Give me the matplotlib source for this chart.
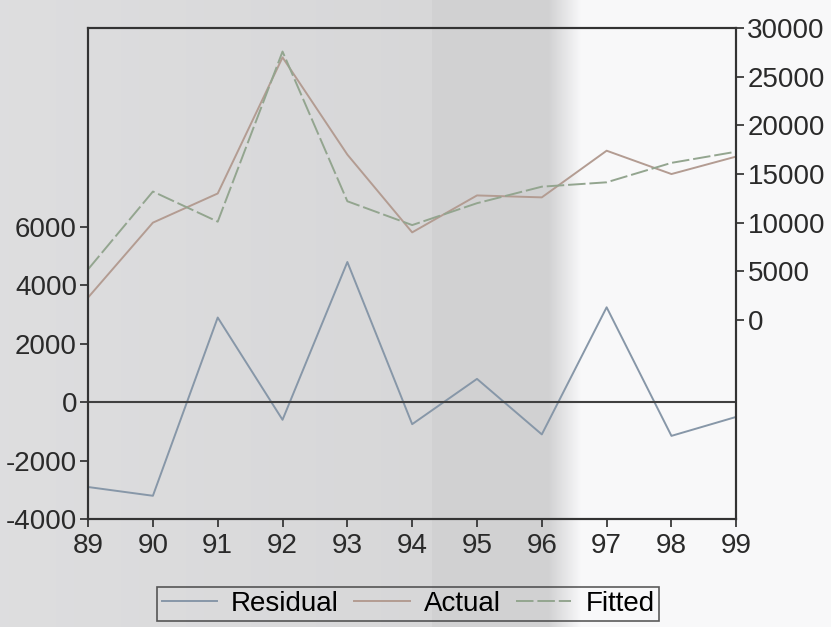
import numpy as np
import matplotlib.pyplot as plt

years = [89, 90, 91, 92, 93, 94, 95, 96, 97, 98, 99]
actual = [2300, 10000, 13000, 27000, 17000, 9000, 12800, 12600, 17400, 15000, 16800]
fitted = [5200, 13200, 10100, 27600, 12200, 9750, 12000, 13700, 14150, 16150, 17300]
residual = [-2900, -3200, 2900, -600, 4800, -750, 800, -1100, 3250, -1150, -500]

left_ticks = [-4000, -2000, 0, 2000, 4000, 6000]
right_ticks = [0, 5000, 10000, 15000, 20000, 25000, 30000]

plt.rcParams['font.family'] = ['Liberation Sans', 'DejaVu Sans']
plt.rcParams['axes.unicode_minus'] = False

fig = plt.figure(figsize=(8.31, 6.27), dpi=100)

# paper shading behind everything
bg = fig.add_axes([0, 0, 1, 1], zorder=-10)
cols = np.linspace(0, 1, 831)
shade = np.where(cols < 0.52, 0.87 - 0.05 * cols, np.where(cols < 0.68, 0.82, 0.975))
shade = np.where((cols > 0.66) & (cols < 0.70), 0.82 + (cols - 0.66) / 0.04 * 0.155, shade)
img = np.tile(shade, (627, 1))
bg.imshow(np.dstack([img, img, img + 0.005]).clip(0, 1), aspect='auto', extent=[0, 1, 0, 1])
bg.axis('off')

ax = fig.add_axes([0.106, 0.172, 0.780, 0.783])
ax.set_facecolor('none')
ax2 = ax.twinx()

ax.plot(years, residual, color='#8797a8', lw=1.4, label='Residual')
ax.axhline(0, color='#404040', lw=1.5)
ax2.plot(years, actual, color='#b39c92', lw=1.4, label='Actual')
ax2.plot(years, fitted, color='#93a58f', lw=1.4, ls=(0, (9, 2)), label='Fitted')

ax.set_xlim(89, 99)
ax.set_ylim(-4000, 12800)
ax2.set_ylim(-20500, 30000)
ax.set_xticks(years)
ax.set_xticklabels([str(y) for y in years])
ax.set_yticks(left_ticks)
ax2.set_yticks(right_ticks)

for a in (ax, ax2):
    a.tick_params(labelsize=20, width=1.2, length=6, colors='#2a2a2a', pad=2)
    for s in a.spines.values():
        s.set_color('#333333')
        s.set_linewidth(1.5)
ax.tick_params(axis='x', pad=4)

handles = ax.get_lines()[:1] + ax2.get_lines()
leg = fig.legend(handles, ['Residual', 'Actual', 'Fitted'], loc='upper center',
                 bbox_to_anchor=(0.491, 0.064), ncol=3, fontsize=20, frameon=True,
                 fancybox=False, edgecolor='#333333', handlelength=2.0,
                 handletextpad=0.5, columnspacing=0.55, borderpad=0.15,
                 borderaxespad=0)
leg.get_frame().set_facecolor('none')
leg.get_frame().set_linewidth(1.2)

fig.savefig('out.png', dpi=100)
